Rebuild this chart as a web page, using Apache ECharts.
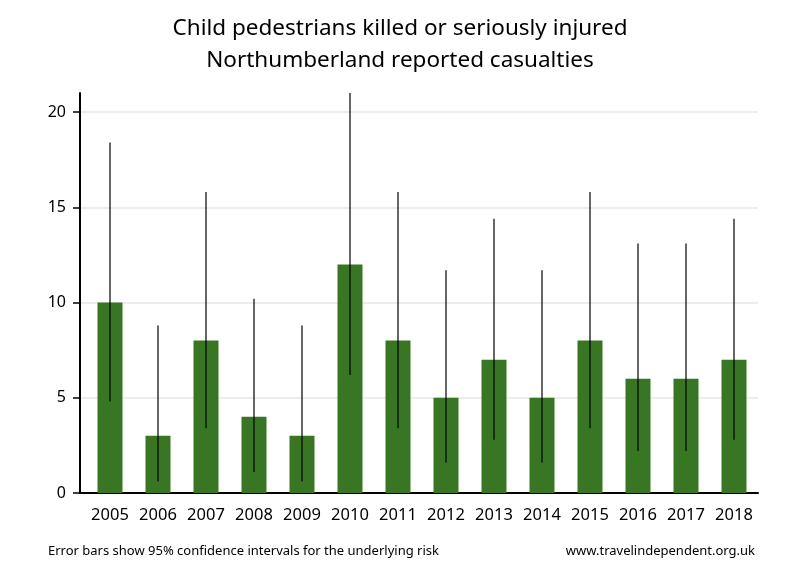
<!DOCTYPE html>
<html>
<head>
<meta charset="utf-8">
<script src="https://cdn.jsdelivr.net/npm/echarts@6/dist/echarts.min.js"></script>
<style>
  html, body { margin: 0; padding: 0; background: #fff; }
  #chart { width: 800px; height: 580px; }
</style>
</head>
<body>
<div id="chart"></div>
<script>
const years = ['2005', '2006', '2007', '2008', '2009', '2010', '2011', '2012', '2013', '2014', '2015', '2016', '2017', '2018'];
const casualties = [10, 3, 8, 4, 3, 12, 8, 5, 7, 5, 8, 6, 6, 7];
const ciLow = [4.8, 0.6, 3.4, 1.1, 0.6, 6.2, 3.4, 1.6, 2.8, 1.6, 3.4, 2.2, 2.2, 2.8];
const ciHigh = [18.4, 8.8, 15.8, 10.2, 8.8, 21.0, 15.8, 11.7, 14.4, 11.7, 15.8, 13.1, 13.1, 14.4];
const yTicks = [0, 5, 10, 15, 20];

const chart = echarts.init(document.getElementById('chart'));
const font = 'Noto Sans';

chart.setOption({
  animation: false,
  backgroundColor: '#fff',
  title: {
    text: 'Child pedestrians killed or seriously injured\nNorthumberland reported casualties',
    left: 'center',
    top: 8,
    textStyle: { fontFamily: font, fontSize: 22.5, fontWeight: 'normal', color: '#000', lineHeight: 32 },
  },
  grid: [
    { left: 80, right: 42, top: 93, bottom: 87 },
    { left: 86, right: 42, top: 93, bottom: 87 },
  ],
  xAxis: [
    {
      gridIndex: 0,
      type: 'value',
      min: 0,
      max: 1,
      axisLine: { show: true, lineStyle: { color: '#000', width: 2 } },
      axisTick: { show: false },
      axisLabel: { show: false },
      splitLine: { show: false },
    },
    {
      gridIndex: 1,
      type: 'category',
      data: years,
      axisLine: { show: false },
      axisTick: { show: false },
      axisLabel: { color: '#000', fontFamily: font, fontSize: 16.5, margin: 14, interval: 0, hideOverlap: false },
    },
  ],
  yAxis: [
    {
      gridIndex: 0,
      type: 'value',
      min: 0,
      max: 21,
      interval: 5,
      axisLine: { show: true, lineStyle: { color: '#000', width: 2 } },
      axisTick: { show: true, length: 7, customValues: yTicks, lineStyle: { color: '#000', width: 1.5 } },
      axisLabel: { color: '#000', fontFamily: font, fontSize: 16, margin: 14, customValues: yTicks },
      splitLine: { show: true, lineStyle: { color: '#e6e6e6', width: 1.5 } },
    },
    {
      gridIndex: 1,
      type: 'value',
      min: 0,
      max: 21,
      show: false,
    },
  ],
  series: [
    {
      type: 'bar',
      xAxisIndex: 1,
      yAxisIndex: 1,
      data: casualties,
      barWidth: 25,
      itemStyle: { color: '#387623' },
    },
    {
      type: 'custom',
      xAxisIndex: 1,
      yAxisIndex: 1,
      data: years.map((y, i) => [i, ciLow[i], ciHigh[i]]),
      renderItem: (params, api) => {
        const lo = api.coord([api.value(0), api.value(1)]);
        const hi = api.coord([api.value(0), api.value(2)]);
        return {
          type: 'line',
          shape: { x1: lo[0], y1: lo[1], x2: hi[0], y2: hi[1] },
          style: { stroke: '#000', lineWidth: 1.2 },
        };
      },
      z: 3,
    },
  ],
  graphic: [
    {
      type: 'text',
      left: 48,
      top: 545,
      style: { text: 'Error bars show 95% confidence intervals for the underlying risk', fontFamily: font, fontSize: 13, fill: '#000' },
    },
    {
      type: 'text',
      right: 45,
      top: 545,
      style: { text: 'www.travelindependent.org.uk', fontFamily: font, fontSize: 13, fill: '#000' },
    },
  ],
});
</script>
</body>
</html>
